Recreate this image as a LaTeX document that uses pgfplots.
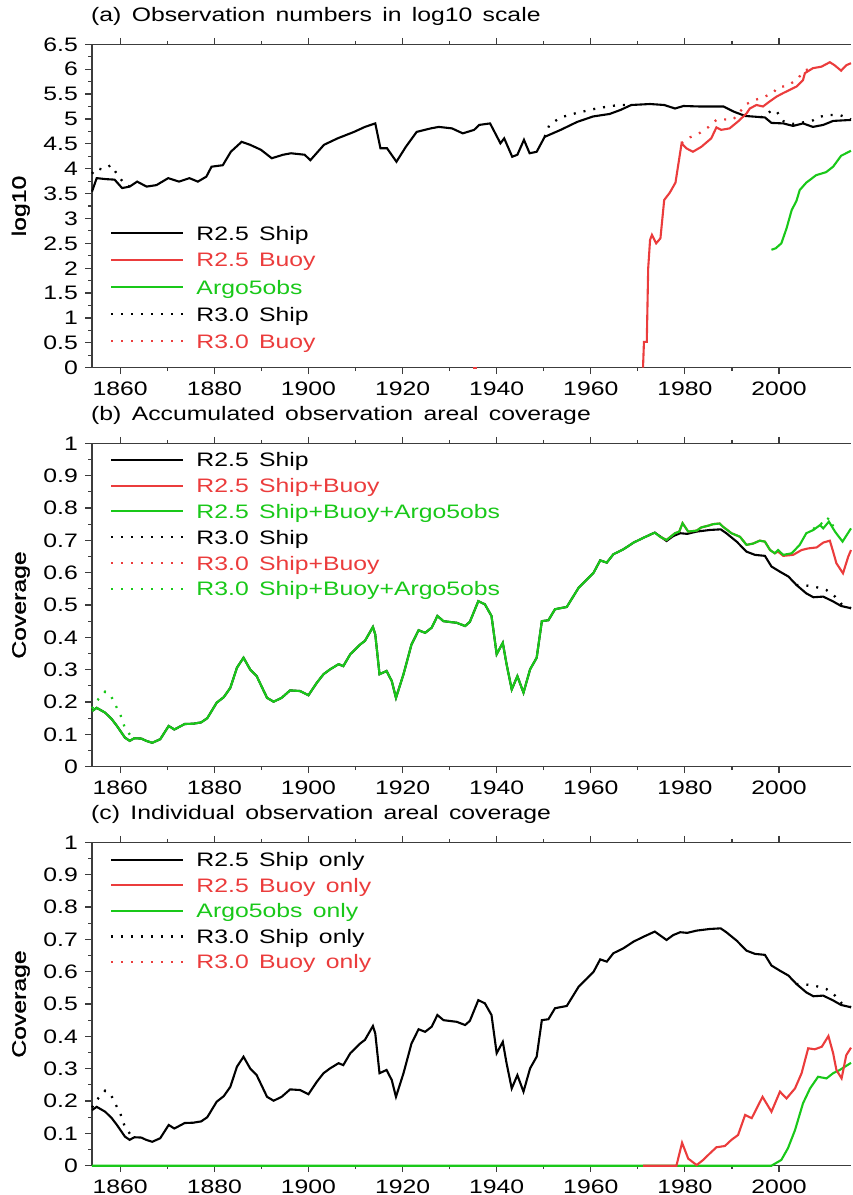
\documentclass[border=0pt]{standalone}
\usepackage{fontspec}
\setmainfont{Liberation Sans}[FakeStretch=1.27,WordSpace=1.5]
\newfontfamily\labfont{Liberation Sans}[FakeStretch=1.27,FakeBold=1.2]
\usepackage{pgfplots}
\usepackage{pgfplotstable}
\pgfplotsset{compat=1.18}
\definecolor{gred}{RGB}{235,60,60}
\definecolor{ggreen}{RGB}{25,200,25}
\definecolor{axc}{RGB}{60,60,60}

% ---------------- panel (a): log10 observation numbers ----------------
\pgfplotstableread{
x y
1854 3.54
1855 3.81
1857 3.79
1858.8 3.78
1860.4 3.61
1862 3.64
1863.6 3.74
1865.6 3.64
1867.7 3.67
1870.2 3.81
1872.5 3.74
1874.7 3.81
1876.5 3.74
1878.3 3.84
1879.4 4.04
1881.8 4.07
1883.5 4.34
1885.8 4.54
1887.6 4.48
1889.9 4.38
1892.2 4.21
1894.6 4.28
1896.3 4.31
1899.2 4.28
1900.4 4.17
1903.3 4.48
1906.2 4.61
1909.7 4.74
1912 4.84
1914.2 4.91
1915.3 4.41
1916.7 4.41
1918.7 4.14
1920.7 4.44
1923 4.74
1926 4.81
1927.7 4.84
1930.5 4.81
1932.8 4.71
1935.2 4.78
1936.3 4.88
1938.6 4.91
1940.8 4.51
1941.6 4.61
1943.3 4.24
1944.4 4.28
1945.8 4.58
1947 4.31
1948.5 4.34
1950.2 4.64
1953.6 4.78
1957.1 4.94
1960.5 5.05
1964 5.10
1966.3 5.18
1968.6 5.28
1972.6 5.30
1975.6 5.28
1977.9 5.21
1979.7 5.26
1983.2 5.25
1988.2 5.25
1990.3 5.15
1992.8 5.06
1997.0 5.03
1998.4 4.92
2000.9 4.91
2003.0 4.86
2005.1 4.91
2007.2 4.84
2009.4 4.88
2011.5 4.96
2015.3 4.98
}\shipA
\pgfplotstableread{
x y
1854 3.90
1855 4.01
1856.3 3.98
1858 4.07
1859.5 3.87
1861 3.68
1862 3.64
}\shipRthreeAa
\pgfplotstableread{
x y
1950.2 4.64
1951.2 4.88
1953.6 5.03
1957 5.12
1961.7 5.22
1965.2 5.27
1968.6 5.29
}\shipRthreeAb
\pgfplotstableread{
x y
1996.0 5.03
1997.5 5.10
1998.5 5.18
1999.5 5.15
2001.0 4.95
2003.0 4.90
2005.1 4.93
2007.2 4.97
2008.4 5.04
2010.7 5.08
2012.9 5.08
2015.3 4.99
}\shipRthreeAc
\pgfplotstableread{
x y
1971.1 0
1971.3 0.52
1971.9 0.52
1972.2 2.0
1972.6 2.57
1973.0 2.67
1973.9 2.50
1974.8 2.60
1975.6 3.37
1976.8 3.52
1978.0 3.72
1979.3 4.51
1980.3 4.41
1981.7 4.34
1983.5 4.44
1985.6 4.61
1986.7 4.83
1987.7 4.78
1989.5 4.81
1991.3 4.95
1993.1 5.11
1993.8 5.21
1995.2 5.28
1996.6 5.25
1998.0 5.35
1999.5 5.45
2000.9 5.52
2003.7 5.65
2005.1 5.78
2005.5 5.92
2007.2 6.02
2009.0 6.05
2010.8 6.14
2011.8 6.08
2013.2 5.97
2014.3 6.08
2015.3 6.12
}\buoyA
\pgfplotstableread{
x y
1979.3 4.51
1981.1 4.63
1983.2 4.72
1984.9 4.83
1986.7 4.98
1988.5 4.99
1990.3 4.99
1993.1 5.30
1994.9 5.38
1997.0 5.45
1998.7 5.52
1999.8 5.64
2001.6 5.66
2003.7 5.78
2005.5 5.98
2006.5 6.00
2007.2 6.02
}\buoyRthreeA
\pgfplotstableread{
x y
1998.4 2.37
1999.3 2.40
2000.5 2.50
2001.6 2.80
2002.7 3.17
2003.7 3.35
2004.4 3.57
2005.8 3.72
2007.9 3.87
2010.0 3.93
2011.5 4.04
2013.2 4.26
2015.3 4.36
}\argoA

% ---------------- panels (b),(c): coverage ----------------
\pgfplotstableread{
x y
1854 0.172
1855 0.182
1856.8 0.167
1858.2 0.147
1859.3 0.126
1861.0 0.090
1862.0 0.080
1863 0.088
1864.5 0.087
1865.5 0.080
1866.8 0.074
1868.5 0.085
1870.3 0.126
1871.5 0.115
1873.7 0.132
1875.5 0.133
1877.2 0.137
1878.5 0.150
1880.5 0.198
1882 0.215
1883.4 0.244
1884.8 0.306
1886.2 0.337
1887.6 0.301
1889.0 0.280
1891.2 0.213
1892.6 0.201
1894.3 0.213
1896.1 0.236
1898.2 0.234
1900.0 0.221
1901.8 0.260
1903.2 0.286
1904.6 0.301
1906.4 0.317
1907.4 0.311
1908.9 0.348
1911.0 0.378
1912.0 0.389
1913.7 0.432
1914.2 0.409
1915.1 0.286
1916.6 0.296
1917.7 0.265
1918.6 0.213
1920.2 0.286
1921.9 0.378
1923.4 0.422
1924.8 0.414
1926.2 0.430
1927.4 0.466
1928.7 0.450
1931.5 0.445
1933.3 0.435
1934.3 0.448
1936.1 0.512
1937.5 0.502
1938.9 0.466
1940.0 0.348
1941.3 0.383
1942.1 0.317
1943.2 0.239
1944.4 0.280
1945.7 0.229
1947.1 0.301
1948.5 0.337
1949.6 0.450
1951.0 0.453
1952.4 0.487
1954.9 0.494
1957.4 0.553
1959.2 0.579
1960.6 0.600
1962.0 0.638
1963.4 0.631
1964.8 0.657
1966.9 0.672
1969.1 0.693
1971.2 0.708
1973.6 0.724
1976.1 0.698
1977.5 0.713
1979.0 0.722
1980.5 0.720
1982.5 0.727
1985.3 0.732
1987.6 0.734
1988.8 0.722
1991.0 0.696
1993.1 0.665
1994.9 0.655
1997.0 0.652
1998.4 0.619
2000.2 0.603
2002.0 0.588
2003.7 0.562
2005.8 0.536
2007.3 0.524
2009.4 0.526
2011.5 0.511
2013.2 0.497
2015.3 0.490
}\shipcov
\pgfplotstableread{
x y
1854 0.180
1855 0.203
1856.8 0.232
1858.0 0.220
1858.9 0.193
1860.0 0.162
1861.0 0.120
1862.5 0.090
1863 0.088
}\shipRthreeEarly
\pgfplotstableread{
x y
2003.7 0.562
2005.1 0.562
2008.0 0.555
2010.1 0.546
2011.9 0.526
2013.2 0.504
2015.3 0.490
}\shipRthreeLate
\pgfplotstableread{
x y
1974.7 0.711
1976.1 0.701
1977.9 0.722
1978.8 0.727
1979.5 0.753
1980.7 0.727
1982.5 0.730
1983.5 0.740
1984.9 0.745
1986.0 0.750
1987.4 0.752
1988.1 0.742
1989.9 0.722
1991.7 0.711
1993.1 0.686
1994.5 0.690
1995.9 0.699
1997.0 0.696
1998.1 0.670
1999.1 0.660
1999.8 0.670
2000.9 0.655
2002.7 0.660
2004.4 0.686
2005.8 0.722
2007.3 0.732
2008.7 0.747
2009.4 0.737
2010.6 0.758
2011.9 0.727
2013.5 0.696
2015.3 0.737
}\allLate
\pgfplotstableread{
x y
2007.3 0.735
2008.7 0.755
2009.4 0.748
2010.6 0.770
2011.9 0.732
}\allRthreeLate
\pgfplotstableread{
x y
1974.7 0.711
1976.1 0.701
1977.9 0.722
1978.8 0.727
1979.5 0.753
1980.7 0.727
1982.5 0.730
1983.5 0.740
1984.9 0.745
1986.0 0.750
1987.4 0.752
1988.1 0.742
1989.9 0.722
1991.7 0.711
1993.1 0.686
1994.5 0.690
1995.9 0.699
1997.0 0.696
1998.1 0.670
1999.1 0.660
1999.8 0.665
2000.9 0.652
2003.0 0.655
2004.8 0.670
2006.2 0.675
2008.0 0.678
2009.4 0.693
2010.8 0.699
2011.5 0.665
2012.2 0.629
2013.6 0.598
2014.7 0.649
2015.3 0.670
}\sbLate
\pgfplotstableread{
x y
1971.1 0
1978.2 0
1979.4 0.071
1980.7 0.022
1982.5 0.002
1983.9 0.018
1985.3 0.038
1986.7 0.057
1988.5 0.061
1989.9 0.080
1991.3 0.095
1992.8 0.157
1994.2 0.147
1996.5 0.213
1998.4 0.167
2000.2 0.229
2001.6 0.208
2003.4 0.239
2004.8 0.286
2006.2 0.363
2007.6 0.360
2009.1 0.368
2010.5 0.401
2011.5 0.348
2012.2 0.296
2013.3 0.270
2014.3 0.342
2015.3 0.365
}\buoyonly
\pgfplotstableread{
x y
1854 0
1998.4 0
2000.5 0.018
2001.9 0.054
2003.4 0.110
2005.1 0.193
2006.6 0.239
2008.3 0.275
2010.1 0.270
2011.5 0.286
2012.9 0.296
2015.3 0.318
}\argoonly

\newcommand{\fs}{\fontsize{19.5}{23}\selectfont}
\pgfplotsset{
  gpanel/.style={
    scale only axis, width=759pt, height=323.4pt,
    xmin=1854, xmax=2015.3,
    axis x line=box, axis y line=left,
    axis line style={line width=1.4pt, axc, -},
    tick align=outside, major tick length=6.5pt, minor tick length=3.5pt,
    every tick/.style={line width=1.2pt, axc},
    xtick={1860,1880,1900,1920,1940,1960,1980,2000}, minor x tick num=1,
    minor y tick num=1,
    xticklabel={\fs\pgfmathprintnumber[assume math mode=true,1000 sep={}]{\tick}},
    yticklabel={\fs\pgfmathprintnumber[assume math mode=true,fixed,precision=2]{\tick}},
    xticklabel style={font=\fs, inner sep=0pt, anchor=north, yshift=-7.1pt},
    yticklabel style={font=\fs, inner sep=0pt, anchor=east, xshift=-7.5pt},
    clip=false,
    title style={font=\fs, at={(0,1)}, anchor=base west, yshift=17.3pt, xshift=-1pt, inner sep=0pt},
    ylabel style={font=\fs\labfont, at={([xshift=-62pt]axis description cs:0,0.5)}, anchor=south, inner sep=0pt},
    legend style={draw=none, fill=none, inner sep=0pt, font=\fs,
      at={(0,1)}, anchor=north west, xshift=18pt,
      nodes={inner sep=0pt, text depth=0pt},
      /tikz/every odd column/.append style={column sep=12pt}},
    legend cell align=left,
    legend image code/.code={\draw[##1] (0pt,0pt) -- (72pt,0pt);},
  },
  sol/.style={line width=2.1pt, solid},
  dts/.style={line width=2.3pt, dash pattern=on 2pt off 8pt},
}

\begin{document}
\begin{tikzpicture}

% ---------------- (a) ----------------
\begin{axis}[gpanel, at={(92pt,-44.3pt)}, anchor=north west,
  ymin=0, ymax=6.5,
  ytick={0,0.5,1,1.5,2,2.5,3,3.5,4,4.5,5,5.5,6,6.5},
  title={\fs (a) Observation numbers in log10 scale},
  ylabel={log10},
  legend style={yshift=-181.5pt, row sep=13.1pt}]
\addlegendimage{sol, black}\addlegendentry{R2.5 Ship}
\addlegendimage{sol, gred}\addlegendentry{\textcolor{gred}{R2.5 Buoy}}
\addlegendimage{sol, ggreen}\addlegendentry{\textcolor{ggreen}{Argo5obs}}
\addlegendimage{dts, black}\addlegendentry{R3.0 Ship}
\addlegendimage{dts, gred}\addlegendentry{\textcolor{gred}{R3.0 Buoy}}
\addplot[sol, black, forget plot] table[x=x,y=y] {\shipA};
\addplot[sol, gred, forget plot] table[x=x,y=y] {\buoyA};
\addplot[sol, gred, forget plot] coordinates {(1935.0,0) (1935.8,0)};
\addplot[sol, ggreen, forget plot] table[x=x,y=y] {\argoA};
\addplot[dts, black, forget plot] table[x=x,y=y] {\shipRthreeAa};
\addplot[dts, black, forget plot] table[x=x,y=y] {\shipRthreeAb};
\addplot[dts, black, forget plot] table[x=x,y=y] {\shipRthreeAc};
\addplot[dts, gred, forget plot] table[x=x,y=y] {\buoyRthreeA};
\end{axis}

% ---------------- (b) ----------------
\begin{axis}[gpanel, at={(92pt,-443.3pt)}, anchor=north west,
  ymin=0, ymax=1,
  ytick={0,0.1,0.2,0.3,0.4,0.5,0.6,0.7,0.8,0.9,1},
  title={\fs (b) Accumulated observation areal coverage},
  ylabel={Coverage},
  legend style={yshift=-9.2pt, row sep=11.7pt}]
\addlegendimage{sol, black}\addlegendentry{R2.5 Ship}
\addlegendimage{sol, gred}\addlegendentry{\textcolor{gred}{R2.5 Ship+Buoy}}
\addlegendimage{sol, ggreen}\addlegendentry{\textcolor{ggreen}{R2.5 Ship+Buoy+Argo5obs}}
\addlegendimage{dts, black}\addlegendentry{R3.0 Ship}
\addlegendimage{dts, gred}\addlegendentry{\textcolor{gred}{R3.0 Ship+Buoy}}
\addlegendimage{dts, ggreen}\addlegendentry{\textcolor{ggreen}{R3.0 Ship+Buoy+Argo5obs}}
\addplot[sol, black, forget plot] table[x=x,y=y] {\shipcov};
\addplot[dts, black, forget plot] table[x=x,y=y] {\shipRthreeLate};
\addplot[sol, gred, forget plot] table[x=x,y=y] {\sbLate};
\addplot[sol, ggreen, forget plot] table[x=x,y=y, restrict x to domain=1854:1974.0] {\shipcov};
\addplot[sol, ggreen, forget plot] coordinates {(1973.6,0.724) (1974.7,0.711)};
\addplot[sol, ggreen, forget plot] table[x=x,y=y] {\allLate};
\addplot[dts, ggreen, forget plot] table[x=x,y=y] {\shipRthreeEarly};
\addplot[dts, ggreen, forget plot] table[x=x,y=y] {\allRthreeLate};
\end{axis}

% ---------------- (c) ----------------
\begin{axis}[gpanel, at={(92pt,-842.3pt)}, anchor=north west,
  ymin=0, ymax=1,
  ytick={0,0.1,0.2,0.3,0.4,0.5,0.6,0.7,0.8,0.9,1},
  title={\fs (c) Individual observation areal coverage},
  ylabel={Coverage},
  legend style={yshift=-10.2pt, row sep=11.4pt}]
\addlegendimage{sol, black}\addlegendentry{R2.5 Ship only}
\addlegendimage{sol, gred}\addlegendentry{\textcolor{gred}{R2.5 Buoy only}}
\addlegendimage{sol, ggreen}\addlegendentry{\textcolor{ggreen}{Argo5obs only}}
\addlegendimage{dts, black}\addlegendentry{R3.0 Ship only}
\addlegendimage{dts, gred}\addlegendentry{\textcolor{gred}{R3.0 Buoy only}}
\addplot[sol, black, forget plot] table[x=x,y=y] {\shipcov};
\addplot[dts, black, forget plot] table[x=x,y=y] {\shipRthreeEarly};
\addplot[dts, black, forget plot] table[x=x,y=y] {\shipRthreeLate};
\addplot[sol, ggreen, forget plot] table[x=x,y=y] {\argoonly};
\addplot[sol, gred, forget plot] table[x=x,y=y] {\buoyonly};
\end{axis}
\path (0pt,0pt) rectangle (851pt,-1195pt);
\end{tikzpicture}
\end{document}
